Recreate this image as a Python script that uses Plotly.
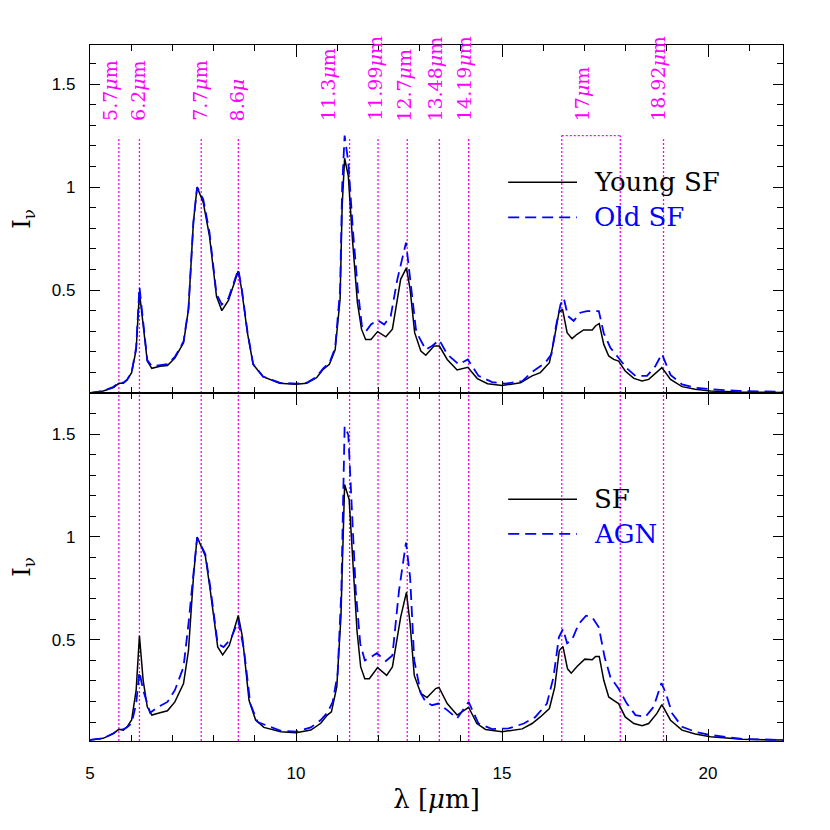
import plotly.graph_objects as go
from plotly.subplots import make_subplots

# ---- top panel: Young SF vs Old SF ----
wl_young = [5.0, 5.32, 5.57, 5.7, 5.81, 5.9, 6.01, 6.12, 6.2, 6.29, 6.39, 6.5, 6.7, 6.88, 7.06, 7.27,
            7.39, 7.51, 7.6, 7.75, 7.9, 8.07, 8.2, 8.36, 8.48, 8.6, 8.68, 8.82, 8.96, 9.2, 9.6, 10.0,
            10.26, 10.5, 10.66, 10.81, 10.95, 11.07, 11.12, 11.18, 11.27, 11.37, 11.49, 11.59, 11.69,
            11.82, 11.98, 12.18, 12.34, 12.54, 12.68, 12.77, 12.88, 13.03, 13.15, 13.35, 13.48, 13.67,
            13.91, 14.17, 14.4, 14.65, 15.0, 15.45, 15.73, 15.93, 16.15, 16.25, 16.38, 16.47, 16.58,
            16.7, 16.82, 16.98, 17.19, 17.28, 17.36, 17.47, 17.59, 17.71, 17.83, 17.99, 18.2, 18.4,
            18.56, 18.76, 18.88, 19.09, 19.37, 19.69, 20.06, 20.75, 21.82]
i_young = [0.0, 0.01, 0.026, 0.047, 0.047, 0.063, 0.099, 0.21, 0.49, 0.34, 0.155, 0.12, 0.13, 0.134,
           0.17, 0.244, 0.406, 0.83, 1.0, 0.924, 0.762, 0.47, 0.40, 0.45, 0.527, 0.592, 0.503, 0.293,
           0.139, 0.079, 0.047, 0.042, 0.047, 0.074, 0.115, 0.139, 0.21, 0.455, 0.908, 1.14, 1.053,
           0.746, 0.44, 0.31, 0.26, 0.26, 0.298, 0.273, 0.31, 0.552, 0.608, 0.503, 0.293, 0.204, 0.183,
           0.228, 0.228, 0.163, 0.112, 0.125, 0.07, 0.045, 0.036, 0.05, 0.083, 0.099, 0.147, 0.244,
           0.39, 0.406, 0.293, 0.264, 0.285, 0.306, 0.306, 0.328, 0.337, 0.236, 0.18, 0.163, 0.155,
           0.107, 0.071, 0.058, 0.066, 0.099, 0.123, 0.066, 0.031, 0.018, 0.01, 0.005, 0.003]

wl_old = [5.0, 5.32, 5.57, 5.7, 5.81, 5.9, 6.01, 6.12, 6.2, 6.29, 6.39, 6.5, 6.7, 6.88, 7.06, 7.27,
          7.39, 7.51, 7.6, 7.75, 7.9, 8.07, 8.2, 8.36, 8.48, 8.6, 8.68, 8.82, 8.96, 9.2, 9.6, 10.0,
          10.26, 10.5, 10.66, 10.81, 10.95, 11.07, 11.12, 11.18, 11.27, 11.38, 11.5, 11.6, 11.7,
          11.82, 11.98, 12.14, 12.3, 12.46, 12.67, 12.79, 12.91, 12.99, 13.15, 13.31, 13.48, 13.67,
          13.95, 14.17, 14.43, 14.76, 15.08, 15.49, 15.73, 16.05, 16.2, 16.31, 16.42, 16.5, 16.6,
          16.74, 16.9, 17.06, 17.23, 17.35, 17.47, 17.63, 17.83, 18.03, 18.24, 18.52, 18.72, 18.88,
          19.09, 19.37, 19.69, 20.06, 20.75, 21.82]
i_old = [0.0, 0.01, 0.03, 0.05, 0.05, 0.065, 0.1, 0.22, 0.515, 0.35, 0.16, 0.13, 0.135, 0.14, 0.175,
         0.25, 0.41, 0.83, 1.0, 0.94, 0.78, 0.48, 0.43, 0.46, 0.53, 0.60, 0.51, 0.30, 0.14, 0.08, 0.05,
         0.045, 0.05, 0.078, 0.12, 0.145, 0.22, 0.5, 1.0, 1.25, 1.12, 0.795, 0.5, 0.325, 0.30, 0.333,
         0.354, 0.333, 0.374, 0.552, 0.73, 0.52, 0.31, 0.27, 0.21, 0.23, 0.257, 0.188, 0.139, 0.163,
         0.083, 0.053, 0.045, 0.058, 0.102, 0.147, 0.188, 0.325, 0.43, 0.46, 0.374, 0.35, 0.39, 0.398,
         0.398, 0.398, 0.29, 0.22, 0.17, 0.12, 0.083, 0.083, 0.13, 0.19, 0.088, 0.042, 0.026, 0.018,
         0.01, 0.006]

# ---- bottom panel: SF vs AGN ----
wl_sf = [5.0, 5.32, 5.57, 5.7, 5.81, 5.9, 6.01, 6.12, 6.2, 6.29, 6.39, 6.5, 6.7, 6.88, 7.06, 7.27,
         7.39, 7.51, 7.6, 7.8, 7.92, 8.1, 8.22, 8.38, 8.6, 8.7, 8.86, 9.02, 9.22, 9.63, 10.0, 10.36,
         10.6, 10.76, 10.86, 10.99, 11.09, 11.18, 11.29, 11.37, 11.48, 11.57, 11.67, 11.78, 11.98,
         12.2, 12.34, 12.54, 12.68, 12.77, 12.87, 13.03, 13.18, 13.39, 13.47, 13.67, 13.91, 14.19,
         14.39, 14.6, 15.0, 15.49, 15.73, 15.93, 16.15, 16.28, 16.39, 16.48, 16.59, 16.68, 16.82,
         17.01, 17.19, 17.27, 17.36, 17.47, 17.59, 17.71, 17.83, 17.99, 18.2, 18.4, 18.56, 18.76,
         18.88, 19.09, 19.37, 19.69, 20.06, 20.83, 21.82]
i_sf = [0.013, 0.021, 0.045, 0.065, 0.061, 0.077, 0.11, 0.255, 0.52, 0.303, 0.174, 0.134, 0.145,
        0.155, 0.198, 0.287, 0.448, 0.803, 1.0, 0.908, 0.739, 0.465, 0.427, 0.473, 0.618, 0.513,
        0.206, 0.11, 0.074, 0.053, 0.048, 0.061, 0.094, 0.134, 0.15, 0.271, 0.61, 1.255, 1.182,
        0.932, 0.545, 0.368, 0.311, 0.311, 0.365, 0.327, 0.368, 0.61, 0.731, 0.577, 0.327, 0.239,
        0.219, 0.263, 0.268, 0.19, 0.134, 0.172, 0.093, 0.064, 0.053, 0.067, 0.093, 0.125, 0.166,
        0.27, 0.448, 0.467, 0.359, 0.338, 0.37, 0.406, 0.403, 0.419, 0.419, 0.303, 0.222, 0.206,
        0.19, 0.125, 0.093, 0.082, 0.093, 0.142, 0.185, 0.109, 0.061, 0.042, 0.029, 0.016, 0.013]

wl_agn = [5.0, 5.32, 5.57, 5.7, 5.81, 5.9, 6.01, 6.12, 6.2, 6.29, 6.46, 6.66, 6.88, 7.06, 7.27, 7.39,
          7.51, 7.6, 7.8, 7.92, 8.1, 8.24, 8.42, 8.6, 8.74, 8.89, 9.07, 9.63, 10.0, 10.36, 10.6,
          10.76, 10.89, 11.01, 11.1, 11.18, 11.27, 11.35, 11.45, 11.56, 11.67, 11.82, 11.96, 12.18,
          12.34, 12.5, 12.67, 12.77, 12.87, 13.03, 13.15, 13.3, 13.46, 13.67, 13.91, 14.19, 14.43,
          14.76, 15.16, 15.53, 15.81, 16.09, 16.25, 16.38, 16.48, 16.58, 16.7, 16.86, 17.04, 17.19,
          17.35, 17.49, 17.63, 17.83, 18.03, 18.24, 18.48, 18.68, 18.87, 18.98, 19.13, 19.37, 19.69,
          20.06, 20.83, 21.82]
i_agn = [0.013, 0.021, 0.045, 0.065, 0.065, 0.075, 0.094, 0.19, 0.345, 0.255, 0.145, 0.174, 0.198,
         0.255, 0.368, 0.577, 0.82, 0.997, 0.916, 0.755, 0.48, 0.465, 0.505, 0.594, 0.448, 0.19, 0.10,
         0.058, 0.053, 0.074, 0.11, 0.145, 0.198, 0.335, 0.739, 1.537, 1.497, 1.174, 0.739, 0.48, 0.4,
         0.416, 0.435, 0.397, 0.424, 0.739, 0.973, 0.803, 0.4, 0.239, 0.198, 0.182, 0.19, 0.158,
         0.118, 0.198, 0.093, 0.066, 0.069, 0.093, 0.125, 0.19, 0.319, 0.512, 0.552, 0.483, 0.5,
         0.577, 0.617, 0.609, 0.561, 0.416, 0.319, 0.262, 0.19, 0.134, 0.125, 0.174, 0.29, 0.238,
         0.142, 0.077, 0.053, 0.037, 0.018, 0.013]

# feature markers
feature_wl = [5.7, 6.2, 7.7, 8.6, 11.3, 11.99, 12.7, 13.48, 14.19, 18.92]
band_17 = [16.45, 17.87]
label_text = ["5.7<i>μ</i>m", "6.2<i>μ</i>m", "7.7<i>μ</i>m", "8.6<i>μ</i>", "11.3<i>μ</i>m",
              "11.99<i>μ</i>m", "12.7<i>μ</i>m", "13.48<i>μ</i>m", "14.19<i>μ</i>m", "17<i>μ</i>m",
              "18.92<i>μ</i>m"]
label_x = [5.49, 6.17, 7.67, 8.56, 10.78, 11.92, 12.62, 13.37, 14.06, 16.93, 18.79]

BLACK = "#000000"
BLUE = "#0000ff"
MAGENTA = "#ff00ff"
SERIF = "DejaVu Serif"
SANS = "Liberation Sans"

fig = make_subplots(rows=2, cols=1, shared_xaxes=True, vertical_spacing=0)

solid = dict(color=BLACK, width=1.5)
dashed = dict(color=BLUE, width=1.8, dash="11px,6px")

fig.add_trace(go.Scatter(x=wl_young, y=i_young, mode="lines", line=solid, name="Young SF"), row=1, col=1)
fig.add_trace(go.Scatter(x=wl_old, y=i_old, mode="lines", line=dashed, name="Old SF"), row=1, col=1)
fig.add_trace(go.Scatter(x=wl_sf, y=i_sf, mode="lines", line=solid, name="SF"), row=2, col=1)
fig.add_trace(go.Scatter(x=wl_agn, y=i_agn, mode="lines", line=dashed, name="AGN"), row=2, col=1)

dot = dict(color=MAGENTA, width=1.3, dash="2px,2px")
line_top = 1.236
band_top = 1.25
for w in feature_wl:
    fig.add_shape(type="line", x0=w, x1=w, y0=0, y1=line_top, xref="x", yref="y",
                  line=dot, layer="below")
    fig.add_shape(type="line", x0=w, x1=w, y0=0, y1=1, xref="x2", yref="y2 domain",
                  line=dot, layer="below")
for w in band_17:
    fig.add_shape(type="line", x0=w, x1=w, y0=0, y1=band_top, xref="x", yref="y",
                  line=dot, layer="below")
    fig.add_shape(type="line", x0=w, x1=w, y0=0, y1=1, xref="x2", yref="y2 domain",
                  line=dot, layer="below")
fig.add_shape(type="line", x0=band_17[0], x1=band_17[1], y0=band_top, y1=band_top,
              xref="x", yref="y", line=dot, layer="below")

for txt, lx in zip(label_text, label_x):
    fig.add_annotation(x=lx, y=1.31, xref="x", yref="y", text=txt, textangle=-90,
                       showarrow=False, xanchor="center", yanchor="bottom",
                       font=dict(family=SERIF, size=19, color=MAGENTA))

# hand-drawn keys, one per panel
keys = [
    ("x", "y", 1.023, "Young SF", solid, BLACK),
    ("x", "y", 0.853, "Old SF", dashed, BLUE),
    ("x2", "y2", 1.184, "SF", solid, BLACK),
    ("x2", "y2", 1.015, "AGN", dashed, BLUE),
]
for xr, yr, ky, name, ln, col in keys:
    fig.add_shape(type="line", x0=15.15, x1=16.82, y0=ky, y1=ky, xref=xr, yref=yr, line=ln)
    fig.add_annotation(x=17.18, y=ky, xref=xr, yref=yr, text=name, showarrow=False,
                       xanchor="left", yanchor="middle",
                       font=dict(family=SERIF, size=26, color=col))

axis_common = dict(showline=True, linecolor=BLACK, linewidth=1.3, mirror="allticks",
                   ticks="inside", tickcolor=BLACK, tickwidth=1.3, showgrid=False,
                   zeroline=False, automargin=False,
                   tickfont=dict(family=SANS, size=17, color=BLACK))

fig.update_xaxes(**axis_common, range=[5, 21.82], dtick=5, tick0=0, ticklen=12,
                 minor=dict(dtick=1, tick0=0, ticks="inside", ticklen=6, tickcolor=BLACK,
                            tickwidth=1.3, showgrid=False))
fig.update_xaxes(ticklabelstandoff=16, title=dict(text="λ [<i>μ</i>m]", standoff=8,
                 font=dict(family=SERIF, size=26, color=BLACK)), row=2, col=1)

fig.update_yaxes(**axis_common, tickvals=[0.5, 1, 1.5], ticktext=["0.5", "1", "1.5"], ticklen=10,
                 ticklabelstandoff=10,
                 minor=dict(dtick=0.1, tick0=0, ticks="inside", ticklen=6, tickcolor=BLACK,
                            tickwidth=1.3, showgrid=False),
                 title=dict(text="I<sub>ν</sub>", standoff=20,
                            font=dict(family=SERIF, size=24, color=BLACK)))
fig.update_yaxes(range=[0, 1.69], row=1, col=1)
fig.update_yaxes(range=[0.008, 1.70], row=2, col=1)

# the page body adds an 8px offset, so the figure is 8px smaller and margins trimmed
fig.update_layout(
    width=822, height=822,
    margin=dict(l=82, r=47, t=37, b=89),
    paper_bgcolor="white", plot_bgcolor="white",
    showlegend=False,
)

fig.write_html("out.html")
